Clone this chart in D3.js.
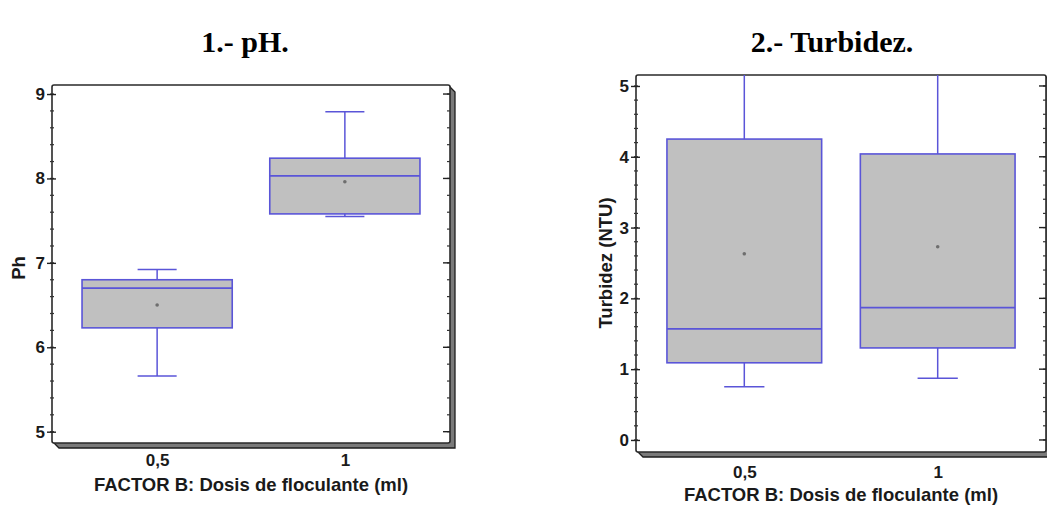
<!DOCTYPE html>
<html>
<head>
<meta charset="utf-8">
<script src="https://cdn.jsdelivr.net/npm/d3@7"></script>
<style>
  body { margin: 0; background: #fff; }
  svg text { font-family: "Liberation Sans", Arial, sans-serif; fill: #1a1a1a; }
  .title { font-family: "Liberation Serif", "Times New Roman", serif; font-weight: bold; font-size: 30px; fill: #000; }
</style>
</head>
<body>
<div id="chart"></div>
<script>
// categories (dose of flocculant)
var groups = ["0,5", "1"];

// pH box stats
var phMin  = [5.66, 7.55];
var phQ1   = [6.23, 7.58];
var phMed  = [6.70, 8.03];
var phQ3   = [6.80, 8.24];
var phMax  = [6.92, 8.79];
var phMean = [6.50, 7.96];
var phTicks = [5, 6, 7, 8, 9];

// turbidity box stats (NTU)
var tuMin  = [0.75, 0.87];
var tuQ1   = [1.09, 1.30];
var tuMed  = [1.57, 1.87];
var tuQ3   = [4.25, 4.04];
var tuMax  = [5.25, 5.25];
var tuMean = [2.63, 2.73];
var tuTicks = [0, 1, 2, 3, 4, 5];

var svg = d3.select("#chart").append("svg")
    .attr("width", 1047)
    .attr("height", 507);

function boxplot(cfg) {
  var rows = groups.map(function(g, i) {
    return { g: g, min: cfg.min[i], q1: cfg.q1[i], med: cfg.med[i], q3: cfg.q3[i], max: cfg.max[i], mean: cfg.mean[i] };
  });

  var x = d3.scalePoint().domain(groups).range([cfg.x0, cfg.x1]).padding(0.56);
  var y = d3.scaleLinear().domain(cfg.domain).range([cfg.y1, cfg.y0]);
  var bw = x.step() * 0.8;

  var g = svg.append("g");
  var clipId = "clip" + cfg.id;
  g.append("clipPath").attr("id", clipId)
    .append("rect").attr("x", cfg.x0).attr("y", cfg.y0)
    .attr("width", cfg.x1 - cfg.x0).attr("height", cfg.y1 - cfg.y0);

  // 3d shadow of the frame (right and bottom)
  var s = 5;
  g.append("path")
    .attr("d", "M" + (cfg.x0 + 2) + "," + cfg.y1 + " L" + (cfg.x0 + 2 + s) + "," + (cfg.y1 + s) +
      " L" + (cfg.x1 + s) + "," + (cfg.y1 + s) + " L" + (cfg.x1 + s) + "," + (cfg.y0 + 2 + s) +
      " L" + cfg.x1 + "," + (cfg.y0 + 2) + " Z")
    .attr("fill", "#7a7a7a")
    .attr("stroke", "#1e1e1e")
    .attr("stroke-width", 1.3);

  g.append("rect")
    .attr("x", cfg.x0).attr("y", cfg.y0)
    .attr("width", cfg.x1 - cfg.x0).attr("height", cfg.y1 - cfg.y0)
    .attr("rx", 2)
    .attr("fill", "#fff")
    .attr("stroke", "#2a2a2a")
    .attr("stroke-width", 1.6);

  // minor + major ticks on left and right edges
  var minor = d3.range(Math.ceil(cfg.domain[0] * 5), Math.floor(cfg.domain[1] * 5) + 1).map(function(v) { return v / 5; });
  g.selectAll(".mn").data(minor).enter().append("line")
    .attr("x1", cfg.x0 - 2).attr("x2", cfg.x0 + 2)
    .attr("y1", function(d) { return y(d); }).attr("y2", function(d) { return y(d); })
    .attr("stroke", "#333").attr("stroke-width", 1.2);
  g.selectAll(".mnr").data(minor).enter().append("line")
    .attr("x1", cfg.x1 - 3).attr("x2", cfg.x1)
    .attr("y1", function(d) { return y(d); }).attr("y2", function(d) { return y(d); })
    .attr("stroke", "#333").attr("stroke-width", 1.2);

  var yAxis = d3.axisLeft(y).tickValues(cfg.ticks).tickFormat(d3.format("d")).tickSize(5).tickPadding(2);
  var ya = g.append("g").attr("transform", "translate(" + cfg.x0 + ",0)").call(yAxis);
  ya.select(".domain").remove();
  ya.selectAll("line").attr("x2", -5).attr("x1", 4).attr("stroke", "#222").attr("stroke-width", 1.4);
  ya.selectAll("text").style("font-size", "17px").style("font-weight", "bold")
    .style("font-family", "Liberation Sans, Arial, sans-serif").attr("fill", "#222");
  g.selectAll(".mjr").data(cfg.ticks).enter().append("line")
    .attr("x1", cfg.x1 - 7).attr("x2", cfg.x1)
    .attr("y1", function(d) { return y(d); }).attr("y2", function(d) { return y(d); })
    .attr("stroke", "#222").attr("stroke-width", 1.4);

  var xAxis = d3.axisBottom(x).tickSize(0).tickPadding(0);
  var xa = g.append("g").attr("transform", "translate(0," + (cfg.y1 + cfg.xlab) + ")").call(xAxis);
  xa.select(".domain").remove();
  xa.selectAll("text").style("font-size", "17px").style("font-weight", "bold")
    .style("font-family", "Liberation Sans, Arial, sans-serif").attr("fill", "#222");

  // boxes
  var b = g.append("g").attr("clip-path", "url(#" + clipId + ")");
  var col = "#5a55d8";
  var items = b.selectAll(".box").data(rows).enter().append("g");
  items.append("line")
    .attr("x1", function(d) { return x(d.g); }).attr("x2", function(d) { return x(d.g); })
    .attr("y1", function(d) { return y(d.min); }).attr("y2", function(d) { return y(d.max); })
    .attr("stroke", col).attr("stroke-width", 1.5);
  items.selectAll(".cap").data(function(d) { return [d.min, d.max].map(function(v) { return { g: d.g, v: v }; }); })
    .enter().append("line")
    .attr("x1", function(d) { return x(d.g) - bw * 0.13; }).attr("x2", function(d) { return x(d.g) + bw * 0.13; })
    .attr("y1", function(d) { return y(d.v); }).attr("y2", function(d) { return y(d.v); })
    .attr("stroke", col).attr("stroke-width", 1.5);
  items.append("rect")
    .attr("x", function(d) { return x(d.g) - bw / 2; })
    .attr("y", function(d) { return y(d.q3); })
    .attr("width", bw)
    .attr("height", function(d) { return y(d.q1) - y(d.q3); })
    .attr("fill", "#c0c0c0").attr("stroke", col).attr("stroke-width", 1.6);
  items.append("line")
    .attr("x1", function(d) { return x(d.g) - bw / 2; }).attr("x2", function(d) { return x(d.g) + bw / 2; })
    .attr("y1", function(d) { return y(d.med); }).attr("y2", function(d) { return y(d.med); })
    .attr("stroke", col).attr("stroke-width", 1.8);
  items.append("circle")
    .attr("cx", function(d) { return x(d.g); }).attr("cy", function(d) { return y(d.mean); })
    .attr("r", 1.8).attr("fill", "#6e6e6e");

  // labels
  svg.append("text")
    .attr("x", (cfg.x0 + cfg.x1) / 2).attr("y", cfg.y1 + cfg.xtitle)
    .attr("text-anchor", "middle")
    .style("font-size", "18.5px").style("font-weight", "bold")
    .text("FACTOR B: Dosis de floculante (ml)");
  svg.append("text")
    .attr("transform", "translate(" + cfg.ylx + "," + cfg.ylc + ") rotate(-90)")
    .attr("text-anchor", "middle")
    .style("font-size", "18.5px").style("font-weight", "bold")
    .text(cfg.ylabel);
  svg.append("text").attr("class", "title")
    .attr("x", cfg.tx).attr("y", 52)
    .attr("text-anchor", "middle")
    .text(cfg.title);
}

boxplot({ id: 1, x0: 52, x1: 450, y0: 85, y1: 443, domain: [4.866, 9.107],
  min: phMin, q1: phQ1, med: phMed, q3: phQ3, max: phMax, mean: phMean, ticks: phTicks,
  xlab: 11, xtitle: 48, ylx: 25, ylc: 268, ylabel: "Ph", title: "1.- pH.", tx: 245 });

boxplot({ id: 2, x0: 636, x1: 1046, y0: 75, y1: 452, domain: [-0.17, 5.155],
  min: tuMin, q1: tuQ1, med: tuMed, q3: tuQ3, max: tuMax, mean: tuMean, ticks: tuTicks,
  xlab: 13.5, xtitle: 49, ylx: 612, ylc: 263, ylabel: "Turbidez (NTU)", title: "2.- Turbidez.", tx: 832 });
</script>
</body>
</html>
